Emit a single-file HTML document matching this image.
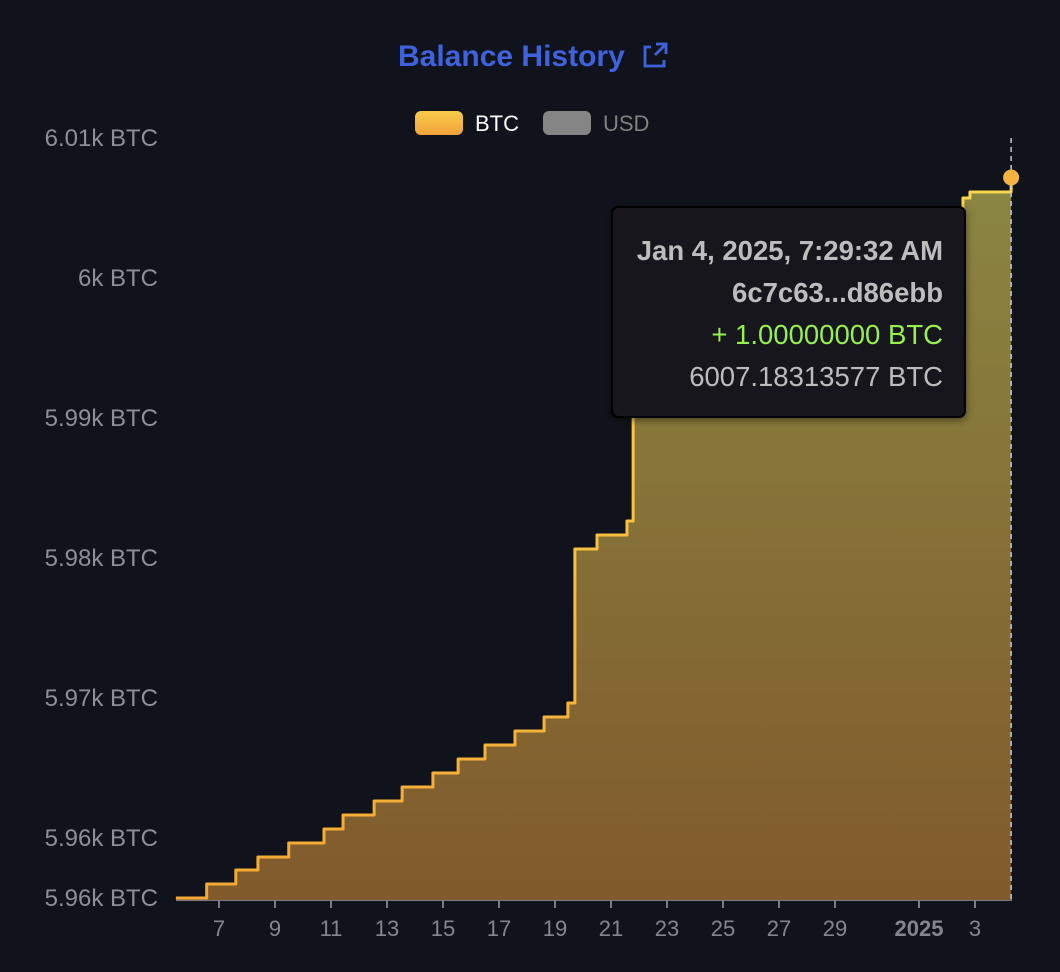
<!DOCTYPE html>
<html><head><meta charset="utf-8"><style>
body{margin:0;background:#11131c;width:1060px;height:972px;overflow:hidden;font-family:"Liberation Sans",sans-serif}
svg{display:block}
</style></head><body>
<svg width="1060" height="972">
<defs>
<linearGradient id="fillg" x1="0" y1="0" x2="0" y2="1"><stop offset="0" stop-color="#8a8642"/><stop offset="1" stop-color="#815a2c"/></linearGradient>
<linearGradient id="lineg" gradientUnits="userSpaceOnUse" x1="0" y1="180" x2="0" y2="900"><stop offset="0" stop-color="#f8d84c"/><stop offset="0.5" stop-color="#f8c040"/><stop offset="1" stop-color="#f5a833"/></linearGradient>
<linearGradient id="legg" x1="0" y1="0" x2="0" y2="1"><stop offset="0" stop-color="#f8cc4a"/><stop offset="1" stop-color="#f2a23a"/></linearGradient>
<filter id="sh"><feDropShadow dx="0" dy="2" stdDeviation="4" flood-color="#000" flood-opacity="0.5"/></filter>
</defs>
<text x="398" y="66" font-size="30" font-weight="bold" fill="#3f62dc">Balance History</text>
<g stroke="#3f62dc" stroke-width="2.8" fill="none">
<path d="M651 47h-6v19h19v-6"/><path d="M656 44h10v10M666 44l-11 11"/></g>
<g><rect x="415" y="111" width="48" height="24" rx="6" fill="url(#legg)"/><text x="475" y="131" font-size="22" fill="#fff">BTC</text></g>
<g><rect x="543" y="111" width="48" height="24" rx="6" fill="#858585"/><text x="603" y="131" font-size="22" fill="#808080">USD</text></g>
<g id="yaxis"></g>
<g id="xaxis"></g>
<g id="plot"></g>
<g filter="url(#sh)">
<rect x="612" y="207" width="353" height="210" rx="6" fill="#12141c" stroke="#000" stroke-width="2"/>
</g>
<g font-size="27.5" text-anchor="end">
<text x="943" y="260" fill="#bdbdbd" font-weight="bold">Jan 4, 2025, 7:29:32 AM</text>
<text x="943" y="302" fill="#bdbdbd" font-weight="bold">6c7c63...d86ebb</text>
<text x="943" y="344" fill="#98f04a">+ 1.00000000 BTC</text>
<text x="943" y="386" fill="#bdbdbd">6007.18313577 BTC</text>
</g>
</svg>
<script>
const days=[5.46,6.56,7.60,8.39,9.49,10.75,11.43,12.54,13.54,14.64,15.54,16.50,17.57,18.61,19.46,19.71,20.50,21.57,21.79,33.57,33.82,35.29];
const balances=[5955.71,5956.71,5957.71,5958.64,5959.64,5960.64,5961.64,5962.64,5963.64,5964.64,5965.64,5966.64,5967.64,5968.64,5969.64,5980.64,5981.64,5982.64,6005.0,6005.71,6006.14,6007.18];
const yTickValues=[5955.71,5960,5970,5980,5990,6000,6010];
const yTickLabels=["5.96k BTC","5.96k BTC","5.97k BTC","5.98k BTC","5.99k BTC","6k BTC","6.01k BTC"];
const xTickDays=[7,9,11,13,15,17,19,21,23,25,27,29,32,34];
const xTickLabels=["7","9","11","13","15","17","19","21","23","25","27","29","2025","3"];
const NS="http://www.w3.org/2000/svg";
const X=d=>219+(d-7)*28;
const Y=v=>138+(6010-v)*14;
const base=900;
function mk(t,a,p){const e=document.createElementNS(NS,t);for(const k in a)e.setAttribute(k,a[k]);p.appendChild(e);return e;}
const ya=document.getElementById('yaxis');
yTickValues.forEach((v,i)=>{const t=mk('text',{x:158,y:Y(v)+8,'text-anchor':'end','font-size':24,fill:'#8e8e96'},ya);t.textContent=yTickLabels[i];

});
const xa=document.getElementById('xaxis');
mk('line',{x1:176,x2:1012,y1:base,y2:base,stroke:'#7c7c84','stroke-width':2},xa);
xTickDays.forEach((d,i)=>{mk('line',{x1:X(d),x2:X(d),y1:base,y2:base+8,stroke:'#7c7c84','stroke-width':2},xa);
const t=mk('text',{x:X(d),y:936,'text-anchor':'middle','font-size':22,fill:'#85858d','font-weight':xTickLabels[i]==='2025'?'bold':'normal'},xa);t.textContent=xTickLabels[i];

});
const plot=document.getElementById('plot');
let p='M'+X(days[0])+' '+Y(balances[0]);
for(let i=1;i<days.length;i++){p+=' H'+X(days[i])+' V'+Y(balances[i]);}
const last=days.length-1;
const area=mk('path',{d:p+' V'+base+' H'+X(days[0])+' Z',fill:'url(#fillg)'},plot);


const line=mk('path',{d:p,fill:'none',stroke:'url(#lineg)','stroke-width':3,'stroke-linejoin':'round'},plot);


const cur=mk('line',{x1:X(days[last]),x2:X(days[last]),y1:138,y2:base,stroke:'#c8c8c8','stroke-width':1.5,'stroke-dasharray':'5 4'},plot);


const dot=mk('circle',{cx:X(days[last]),cy:Y(balances[last]),r:8,fill:'#f5b440'},plot);


</script>
</body></html>
